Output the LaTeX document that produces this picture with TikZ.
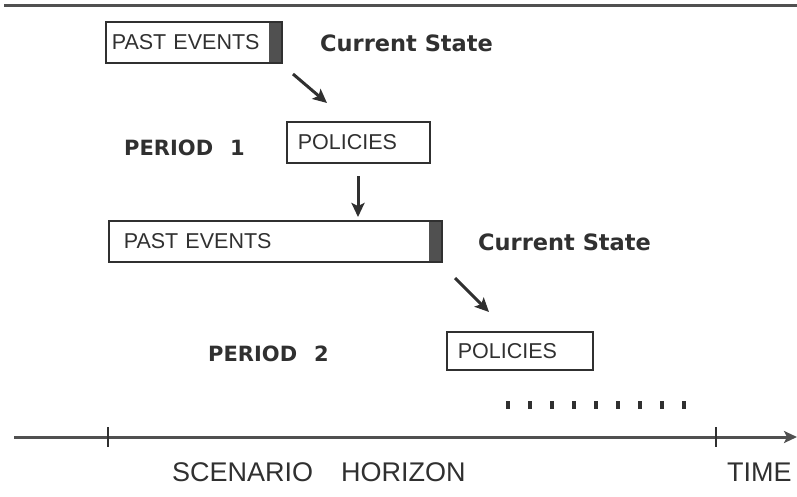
\documentclass[tikz,border=0pt]{standalone}
\usepackage{fontspec}
\setmainfont{Liberation Sans}
\newfontfamily\labelfont{DejaVu Sans}
\usetikzlibrary{arrows.meta}

\definecolor{ink}{HTML}{303030}
\definecolor{rule}{HTML}{505050}
\definecolor{barfill}{HTML}{505050}

\tikzset{
    eventbox/.style={draw=ink, line width=1.5pt, anchor=north west, inner ysep=0pt,
        align=left, text=ink, font=\fontsize{21.5}{24}\selectfont},
    statebar/.style={path picture={\fill[barfill] ([xshift=-13pt]path picture bounding box.north east) rectangle (path picture bounding box.south east);}},
    boldlabel/.style={anchor=west, inner sep=0pt, text=ink, font=\labelfont\bfseries\fontsize{21}{24}\selectfont},
    statelabel/.style={boldlabel, font=\labelfont\bfseries\fontsize{22.5}{24}\selectfont},
    axislabel/.style={anchor=west, inner sep=0pt, text=ink, font=\fontsize{27}{30}\selectfont},
    flow/.style={draw=ink, line width=3pt, -{Stealth[length=14pt,width=13pt,inset=3pt]}}
}

\begin{document}
\begin{tikzpicture}[x=1pt, y=-1pt]
                \useasboundingbox (0, 0) rectangle (797, 496);
                % period 1
                \draw[rule, line width=3pt] (4, 5) -- (797, 5);
                \node[eventbox, statebar, minimum height=41pt, text width=164pt, inner xsep=6pt] (past1) at (105, 21) {PAST EVENTS};
                \node[statelabel] (state1) at (320, 43) {Current State};
                \node[boldlabel] (period1) at (124, 148) {PERIOD\hspace{17pt}1};
                \node[eventbox, minimum height=41pt, text width=121pt, inner xsep=11pt] (policies1) at (286, 121) {POLICIES};
                \coordinate (a1s) at (293, 74);
                \coordinate (a1e) at (327, 103);
                \draw[flow] (a1s) -- (a1e);
                \coordinate (a2s) at (358, 176);
                \coordinate (a2e) at (358, 217);
                \draw[flow] (a2s) -- (a2e);
                % period 2
                \node[eventbox, statebar, minimum height=41pt, text width=303pt, inner xsep=15pt] (past2) at (108, 220) {PAST EVENTS};
                \node[statelabel] (state2) at (478, 242) {Current State};
                \node[boldlabel] (period2) at (208, 354) {PERIOD\hspace{17pt}2};
                \node[eventbox, minimum height=38pt, text width=124pt, inner xsep=11pt] (policies2) at (446, 331) {POLICIES};
                \coordinate (a3s) at (455, 278);
                \coordinate (a3e) at (489, 312);
                \draw[flow] (a3s) -- (a3e);
                % and so on
                \foreach \i in {0,...,8}
                    \draw[ink, line width=3.5pt] (508 + 22*\i, 401) -- (508 + 22*\i, 409);
                % time axis
                \coordinate (t0) at (14, 437);
                \coordinate (t1) at (797, 437);
                \draw[rule, line width=3pt, -{Stealth[length=13pt,width=12pt,inset=3pt]}] (t0) -- (t1);
                \draw[ink, line width=2.5pt] (108, 427) -- (108, 447);
                \draw[ink, line width=2.5pt] (716, 427) -- (716, 447);
                \node[axislabel] (horizon) at (172, 472) {SCENARIO\hspace{28pt}HORIZON};
                \node[axislabel] (time) at (727, 472) {TIME};
            \end{tikzpicture}
\end{document}
